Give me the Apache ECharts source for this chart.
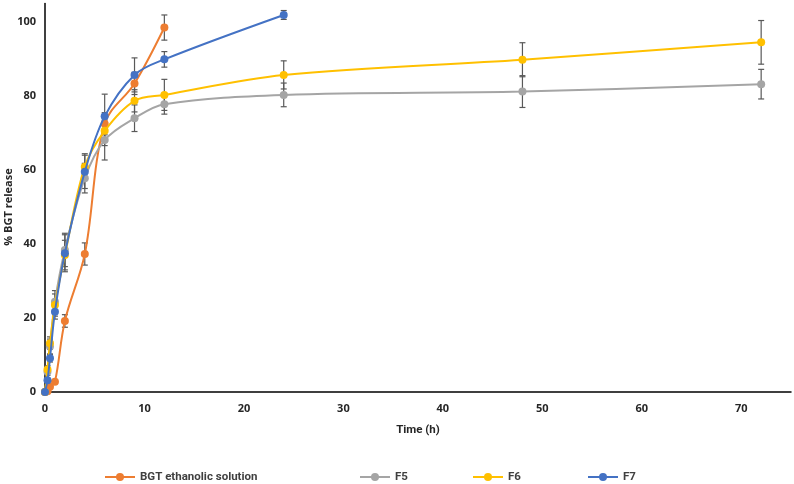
<!DOCTYPE html>
<html>
<head>
<meta charset="utf-8">
<script src="https://cdn.jsdelivr.net/npm/echarts@6/dist/echarts.min.js"></script>
<style>html,body{margin:0;padding:0;background:#fff;}#c{width:794px;height:484px;}</style>
</head>
<body>
<div id="c"></div>
<script>
var seriesNames = ['BGT ethanolic solution', 'F5', 'F6', 'F7'];
var yAxisTitle = '% BGT release';
var xAxisTitle = 'Time (h)';
var timeOrange = [0, 0.25, 0.5, 1, 2, 4, 6, 9, 12];
var orangeVals = [0, 0.2, 1.4, 2.8, 19.2, 37.3, 72.5, 83.4, 98.5];
var orangeErr  = [0, 0.2, 0.4, 0.5, 1.7, 3.0, 3.0, 3.0, 3.4];
var timeF = [0, 0.25, 0.5, 1, 2, 4, 6, 9, 12, 24, 48, 72];
var f5Vals = [0, 5.5, 12.3, 24.4, 38.4, 57.8, 68.1, 74.0, 77.8, 80.3, 81.2, 83.2];
var f5Err  = [0, 1.0, 2.0, 3.0, 4.5, 4.0, 5.4, 3.6, 2.7, 3.2, 4.3, 4.0];
var f6Vals = [0, 6.1, 13.2, 23.5, 37.0, 60.9, 70.6, 78.7, 80.3, 85.7, 89.8, 94.5];
var f6Err  = [0, 1.0, 1.7, 3.0, 4.0, 3.5, 4.0, 3.0, 4.2, 3.8, 4.6, 5.9];
var timeF7 = [0, 0.25, 0.5, 1, 2, 4, 6, 9, 12, 24];
var f7Vals = [0, 3.2, 9.1, 21.7, 37.5, 59.5, 74.5, 85.7, 89.9, 101.9];
var f7Err  = [0, 0.5, 1.0, 2.0, 5.0, 4.5, 6.0, 4.6, 2.1, 1.2];
var xTicks = [0, 10, 20, 30, 40, 50, 60, 70];
var yTicks = [0, 20, 40, 60, 80, 100];
var colors = ['#ED7D31', '#A5A5A5', '#FFC000', '#4472C4'];

var sets = [
  [timeOrange, orangeVals, orangeErr],
  [timeF, f5Vals, f5Err],
  [timeF, f6Vals, f6Err],
  [timeF7, f7Vals, f7Err]
];

function pairs(t, v) { return t.map(function (x, i) { return [x, v[i]]; }); }
function triples(t, v, e) { return t.map(function (x, i) { return [x, v[i], e[i]]; }); }

var narrow = "Roboto, 'Open Sans', sans-serif";

var series = [];
sets.forEach(function (s, k) {
  series.push({
    name: seriesNames[k] + '_err',
    type: 'custom',
    z: 1,
    silent: true,
    data: triples(s[0], s[1], s[2]),
    renderItem: function (params, api) {
      var x = api.value(0), y = api.value(1), e = api.value(2);
      var top = api.coord([x, y + e]);
      var bot = api.coord([x, y - e]);
      var hw = 3;
      var st = { stroke: '#595959', lineWidth: 1.2 };
      return {
        type: 'group',
        children: [
          { type: 'line', shape: { x1: top[0], y1: top[1], x2: bot[0], y2: bot[1] }, style: st },
          { type: 'line', shape: { x1: top[0] - hw, y1: top[1], x2: top[0] + hw, y2: top[1] }, style: st },
          { type: 'line', shape: { x1: bot[0] - hw, y1: bot[1], x2: bot[0] + hw, y2: bot[1] }, style: st }
        ]
      };
    }
  });
});
sets.forEach(function (s, k) {
  series.push({
    name: seriesNames[k],
    type: 'line',
    z: 2 + k,
    smooth: 0.35,
    data: pairs(s[0], s[1]),
    symbol: 'circle',
    symbolSize: 8,
    lineStyle: { color: colors[k], width: 2 },
    itemStyle: { color: colors[k] },
    animation: false
  });
});

var legendLefts = [99, 354, 467, 582];
var legends = seriesNames.map(function (n, k) {
  return {
    data: [n],
    left: legendLefts[k],
    top: 466,
    itemWidth: 30,
    itemHeight: 10,
    itemGap: 4,
    textStyle: { fontFamily: narrow, fontWeight: 'bold', fontSize: 11.5, color: '#404040' }
  };
});

var chart = echarts.init(document.getElementById('c'));
chart.setOption({
  animation: false,
  color: colors,
  grid: { left: 45, right: 3, top: 3.5, bottom: 92, containLabel: false, outerBoundsMode: 'none' },
  legend: legends,
  graphic: [{
    type: 'text',
    x: 9, y: 207,
    rotation: Math.PI / 2,
    style: {
      text: yAxisTitle,
      textAlign: 'center', textVerticalAlign: 'middle',
      fontFamily: 'Open Sans', fontWeight: 'bold', fontSize: 11, fill: '#262626'
    }
  }],
  xAxis: {
    type: 'value',
    min: 0, max: 75, interval: 10,
    name: xAxisTitle,
    nameLocation: 'middle',
    nameGap: 32,
    nameTextStyle: { fontFamily: narrow, fontWeight: 'bold', fontSize: 11.5, color: '#262626' },
    axisLine: { show: true, lineStyle: { color: '#000', width: 1.5 } },
    axisTick: { show: false },
    splitLine: { show: false },
    axisLabel: {
      margin: 11,
      fontFamily: 'Open Sans', fontWeight: 'bold', fontSize: 11, color: '#262626',
      formatter: function (v) { return xTicks.indexOf(v) >= 0 ? String(v) : ''; }
    }
  },
  yAxis: {
    type: 'value',
    min: 0, max: 105, interval: 20,
    axisLine: { show: true, lineStyle: { color: '#000', width: 1.5 } },
    axisTick: { show: false },
    splitLine: { show: false },
    axisLabel: {
      margin: 9,
      fontFamily: 'Open Sans', fontWeight: 'bold', fontSize: 11, color: '#262626',
      formatter: function (v) { return yTicks.indexOf(v) >= 0 ? String(v) : ''; }
    }
  },
  series: series
});
</script>
</body>
</html>
